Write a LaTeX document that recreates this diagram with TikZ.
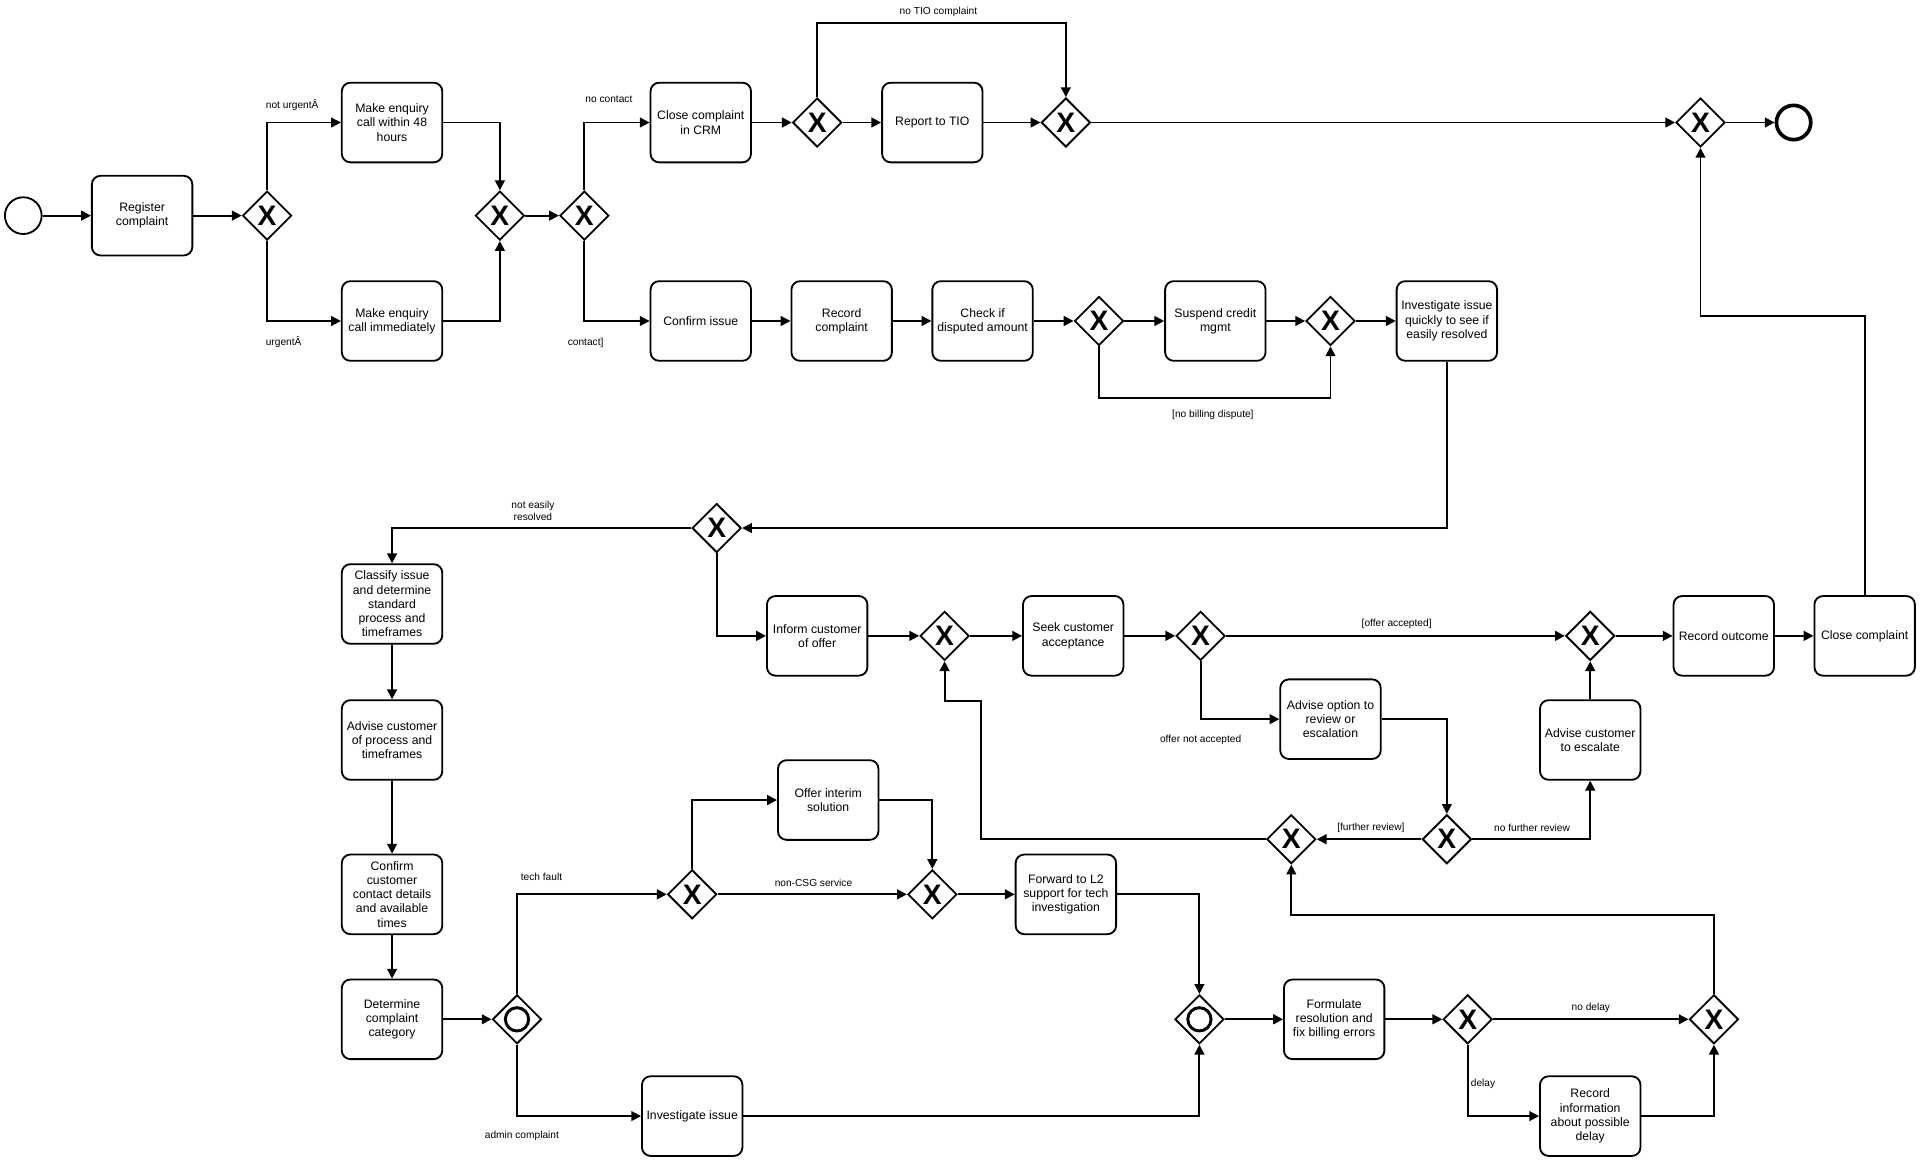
\documentclass[tikz,border=0pt]{standalone}
\usepackage{fontspec}
\setmainfont{Liberation Sans}
\usetikzlibrary{shapes.geometric,arrows.meta}

\begin{document}
\begin{tikzpicture}[x=1pt,y=-1pt,
		task/.style={draw, line width=1.5pt, rounded corners=7pt, minimum width=82pt, minimum height=65pt, inner sep=1pt, align=center, font=\fontsize{10}{11.6}\selectfont},
		xgate/.style={draw, diamond, line width=1.5pt, minimum width=40pt, minimum height=40pt, inner sep=0pt, font=\fontsize{23}{23}\selectfont\bfseries},
		ogate/.style={draw, diamond, line width=1.5pt, minimum width=40pt, minimum height=40pt, inner sep=0pt,
			path picture={\draw[line width=2.4pt] (path picture bounding box.center) circle (9.5pt);}},
		startev/.style={draw, circle, line width=1.5pt, minimum size=30pt, inner sep=0pt},
		endev/.style={draw, circle, line width=3pt, minimum size=28pt, inner sep=0pt},
		flow/.style={line width=1.5pt, -{Triangle[length=8pt,width=8pt]}},
		lbl/.style={font=\fontsize{8.3}{10.3}\selectfont, inner sep=0pt, align=center}
	]
	\useasboundingbox (0,0) rectangle (1568,948);

	\node[startev] (start) at (19,176) {};
	\node[task] (reg) at (116,176) {Register\\complaint};
	\node[xgate] (g1) at (218,176) {X};
	\node[task] (call48) at (320,100) {Make enquiry\\call within 48\\hours};
	\node[task] (callnow) at (320,262) {Make enquiry\\call immediately};
	\node[xgate] (g2) at (408,176) {X};
	\node[xgate] (g3) at (477,176) {X};
	\node[task] (crm) at (572,100) {Close complaint\\in CRM};
	\node[xgate] (g4) at (667,100) {X};
	\node[task] (tio) at (761,100) {Report to TIO};
	\node[xgate] (g5) at (870,100) {X};
	\node[xgate] (g6) at (1388,100) {X};
	\node[endev] (stop) at (1464,100) {};

	\node[task] (confirm) at (572,262) {Confirm issue};
	\node[task] (record) at (687,262) {Record\\complaint};
	\node[task] (dispute) at (802,262) {Check if\\disputed amount};
	\node[xgate] (g7) at (897,262) {X};
	\node[task] (suspend) at (992,262) {Suspend credit\\mgmt};
	\node[xgate] (g8) at (1086,262) {X};
	\node[task] (quick) at (1181,262) {Investigate issue\\quickly to see if\\easily resolved};

	\node[xgate] (g9) at (585,431) {X};
	\node[task] (classify) at (320,493) {Classify issue\\and determine\\standard\\process and\\timeframes};
	\node[task] (advise) at (320,604) {Advise customer\\of process and\\timeframes};
	\node[task] (contact) at (320,730) {Confirm\\customer\\contact details\\and available\\times};
	\node[task] (category) at (320,832) {Determine\\complaint\\category};

	\node[task] (inform) at (667,519) {Inform customer\\of offer};
	\node[xgate] (g10) at (771,519) {X};
	\node[task] (seek) at (876,519) {Seek customer\\acceptance};
	\node[xgate] (g11) at (980,519) {X};
	\node[xgate] (g12) at (1298,519) {X};
	\node[task] (outcome) at (1407,519) {Record outcome};
	\node[task] (closing) at (1522,519) {Close complaint};
	\node[task] (option) at (1086,587) {Advise option to\\review or\\escalation};
	\node[task] (escalate) at (1298,604) {Advise customer\\to escalate};
	\node[xgate] (g13) at (1181,685) {X};
	\node[xgate] (g14) at (1054,685) {X};

	\node[ogate] (o1) at (422,832) {};
	\node[xgate] (g15) at (565,730) {X};
	\node[task] (interim) at (676,653) {Offer interim\\solution};
	\node[xgate] (g16) at (761,730) {X};
	\node[task] (forward) at (870,730) {Forward to L2\\support for tech\\investigation};
	\node[task] (investigate) at (565,911) {Investigate issue};
	\node[ogate] (o2) at (979,832) {};
	\node[task] (formulate) at (1089,832) {Formulate\\resolution and\\fix billing errors};
	\node[xgate] (g17) at (1198,832) {X};
	\node[xgate] (g18) at (1399,832) {X};
	\node[task] (delayinfo) at (1298,911) {Record\\information\\about possible\\delay};

	\coordinate (tioskip) at (768,19);
	\coordinate (closeup) at (1455,258);
	\coordinate (nodispute) at (990,325);
	\coordinate (review) at (801,572);
	\coordinate (backup) at (1220,747);

	\draw[flow] (start) -- (reg);
	\draw[flow] (reg) -- (g1);
	\draw[flow] (g1.north) |- (call48);
	\draw[flow] (g1.south) |- (callnow);
	\draw[flow] (call48) -| (g2.north);
	\draw[flow] (callnow) -| (g2.south);
	\draw[flow] (g2) -- (g3);
	\draw[flow] (g3.north) |- (crm);
	\draw[flow] (g3.south) |- (confirm);
	\draw[flow] (crm) -- (g4);
	\draw[flow] (g4) -- (tio);
	\draw[flow] (tio) -- (g5);
	\draw[flow] (g4.north) |- (tioskip) -| (g5.north);
	\draw[flow] (g5) -- (g6);
	\draw[flow] (g6) -- (stop);
	\draw[flow] (closing.north) |- (closeup) -| (g6.south);

	\draw[flow] (confirm) -- (record);
	\draw[flow] (record) -- (dispute);
	\draw[flow] (dispute) -- (g7);
	\draw[flow] (g7) -- (suspend);
	\draw[flow] (suspend) -- (g8);
	\draw[flow] (g8) -- (quick);
	\draw[flow] (g7.south) |- (nodispute) -| (g8.south);
	\draw[flow] (quick.south) |- (g9.east);

	\draw[flow] (g9.west) -| (classify.north);
	\draw[flow] (g9.south) |- (inform.west);
	\draw[flow] (classify) -- (advise);
	\draw[flow] (advise) -- (contact);
	\draw[flow] (contact) -- (category);
	\draw[flow] (inform) -- (g10);
	\draw[flow] (g10) -- (seek);
	\draw[flow] (seek) -- (g11);
	\draw[flow] (g11) -- (g12);
	\draw[flow] (g12) -- (outcome);
	\draw[flow] (outcome) -- (closing);
	\draw[flow] (g11.south) |- (option.west);
	\draw[flow] (option.east) -| (g13.north);
	\draw[flow] (g13) -- (g14);
	\draw[flow] (g13.east) -| (escalate.south);
	\draw[flow] (escalate) -- (g12);
	\draw[flow] (g14.west) -| (review) -| (g10.south);

	\draw[flow] (category) -- (o1);
	\draw[flow] (o1.north) |- (g15.west);
	\draw[flow] (o1.south) |- (investigate.west);
	\draw[flow] (g15.north) |- (interim.west);
	\draw[flow] (interim.east) -| (g16.north);
	\draw[flow] (g15) -- (g16);
	\draw[flow] (g16) -- (forward);
	\draw[flow] (forward.east) -| (o2.north);
	\draw[flow] (investigate.east) -| (o2.south);
	\draw[flow] (o2) -- (formulate);
	\draw[flow] (formulate) -- (g17);
	\draw[flow] (g17) -- (g18);
	\draw[flow] (g17.south) |- (delayinfo.west);
	\draw[flow] (delayinfo.east) -| (g18.south);
	\draw[flow] (g18.north) |- (backup) -| (g14.south);

	\node[lbl] (lnoturgent) at (238.5,86) {not urgentÂ};
	\node[lbl] (lurgent) at (231.5,279.5) {urgentÂ};
	\node[lbl] (lnocontact) at (497,81) {no contact};
	\node[lbl] (lcontact) at (478,280) {contact]};
	\node[lbl] (lnotio) at (766,10) {no TIO complaint};
	\node[lbl] (lnodispute) at (990,339) {[no billing dispute]};
	\node[lbl] (lnoteasy) at (435,417) {not easily\\resolved};
	\node[lbl] (laccepted) at (1140,509.5) {[offer accepted]};
	\node[lbl] (lnotaccepted) at (980,603.5) {offer not accepted};
	\node[lbl] (lfurther) at (1119,676) {[further review]};
	\node[lbl] (lnofurther) at (1250.5,676) {no further review};
	\node[lbl] (ltech) at (442,716) {tech fault};
	\node[lbl] (lnoncsg) at (664,721) {non-CSG service};
	\node[lbl] (ladmin) at (426,927) {admin complaint};
	\node[lbl] (lnodelay) at (1298.5,823) {no delay};
	\node[lbl] (ldelay) at (1210.5,885) {delay};
\end{tikzpicture}
\end{document}
